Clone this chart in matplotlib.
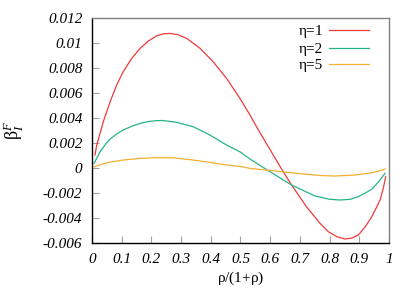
import matplotlib
matplotlib.use("Agg")
import matplotlib.pyplot as plt

plt.rcParams["font.family"] = "Liberation Serif"
plt.rcParams["mathtext.fontset"] = "custom"
plt.rcParams["mathtext.rm"] = "Liberation Serif"
plt.rcParams["mathtext.it"] = "Liberation Serif:italic"

# eta = 1
x1 = [0.01, 0.016, 0.038, 0.061, 0.083, 0.105, 0.134, 0.162, 0.19, 0.218, 0.24,
      0.263, 0.29, 0.319, 0.364, 0.408, 0.453, 0.498, 0.532, 0.554, 0.61, 0.644,
      0.672, 0.722, 0.768, 0.796, 0.825, 0.852, 0.875, 0.897, 0.92, 0.942, 0.957,
      0.97, 0.98, 0.989]
y1 = [0.00104, 0.00184, 0.0037, 0.0053, 0.00664, 0.0077, 0.00878, 0.00957, 0.01016,
      0.01058, 0.01073, 0.01077, 0.01066, 0.01037, 0.00957, 0.0085, 0.00717, 0.00558,
      0.00424, 0.0033, 0.00105, -0.0003, -0.00136, -0.00309, -0.00443, -0.0051,
      -0.0055, -0.00568, -0.0056, -0.00536, -0.0047, -0.0039, -0.0032, -0.00256,
      -0.0017, -0.0007]

# eta = 2
x2 = [0.007, 0.027, 0.045, 0.061, 0.083, 0.105, 0.134, 0.162, 0.19, 0.218, 0.235,
      0.28, 0.341, 0.397, 0.453, 0.498, 0.532, 0.594, 0.672, 0.751, 0.8, 0.835, 0.87,
      0.897, 0.92, 0.942, 0.965, 0.987]
y2 = [0.00037, 0.0013, 0.00188, 0.00232, 0.00272, 0.00304, 0.00334, 0.00357, 0.00372,
      0.00379, 0.0038, 0.00368, 0.0033, 0.00264, 0.00184, 0.0013, 0.00072, -0.00022,
      -0.00136, -0.00224, -0.0025, -0.00256, -0.0025, -0.00229, -0.002, -0.0017,
      -0.0011, -0.00042]

# eta = 5
x5 = [0.007, 0.049, 0.105, 0.162, 0.218, 0.274, 0.341, 0.397, 0.453, 0.498, 0.532,
      0.61, 0.7, 0.768, 0.818, 0.886, 0.942, 0.965, 0.987]
y5 = [0.0001, 0.00042, 0.00064, 0.00077, 0.00083, 0.00081, 0.00064, 0.00045, 0.00024,
      0.00013, -0.00003, -0.00022, -0.00045, -0.0006, -0.00064, -0.00056, -0.00038,
      -0.00025, -0.00008]

xticks = [0, 0.1, 0.2, 0.3, 0.4, 0.5, 0.6, 0.7, 0.8, 0.9, 1]
xtick_labels = ["0", "0.1", "0.2", "0.3", "0.4", "0.5", "0.6", "0.7", "0.8", "0.9", "1"]
yticks = [-0.006, -0.004, -0.002, 0, 0.002, 0.004, 0.006, 0.008, 0.01, 0.012]
ytick_labels = ["-0.006", "-0.004", "-0.002", "0", "0.002", "0.004", "0.006",
                "0.008", "0.01", "0.012"]

fig = plt.figure(figsize=(4.15, 2.91), dpi=100)
ax = fig.add_axes([0.2217, 0.1649, 0.7156, 0.7732])

ax.plot(x1, y1, color="#f03a3a", lw=0.9, label=r"η=$\mathit{1}$")
ax.plot(x2, y2, color="#25b48a", lw=0.9, label="η=2")
ax.plot(x5, y5, color="#f2b030", lw=0.9, label="η=5")

ax.set_xlim(0, 1)
ax.set_ylim(-0.006, 0.012)
ax.set_xticks(xticks)
ax.set_xticklabels(xtick_labels, style="italic")
ax.set_yticks(yticks)
ax.set_yticklabels(ytick_labels, style="italic")
ax.tick_params(direction="in", length=5, width=0.8, color="#a0a0a0",
               labelsize=11, pad=7)

for side in ("top", "right"):
    ax.spines[side].set_color("#808080")
for side in ("left", "bottom"):
    ax.spines[side].set_color("black")
for sp in ax.spines.values():
    sp.set_linewidth(1.0)

ax.set_xlabel(r"ρ/($\mathit{1}$+ρ)", fontsize=11, labelpad=3)
ax.set_ylabel(r"β$_{\mathit{I}}^{\mathit{F}}$", fontsize=13, labelpad=12)

ax.legend(loc="upper right", bbox_to_anchor=(0.954, 1.005), frameon=False,
          markerfirst=False, fontsize=11, handlelength=2.6, handletextpad=0.4,
          labelspacing=0.15, borderaxespad=0)

fig.savefig("out.png", dpi=100)
